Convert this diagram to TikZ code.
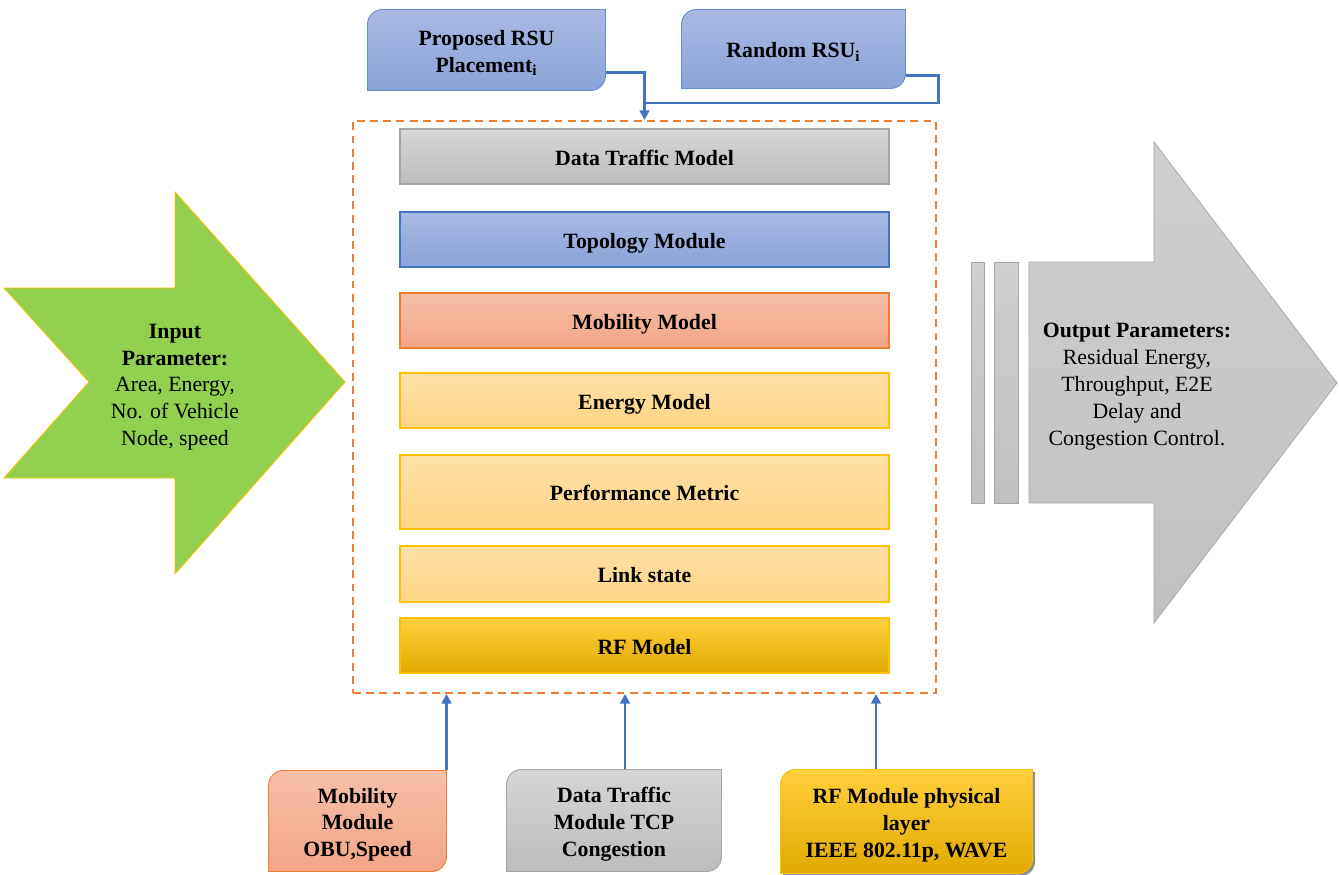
\documentclass[tikz,border=0pt]{standalone}
\usepackage{fontspec}
\setmainfont{Liberation Serif}
\usetikzlibrary{arrows.meta,calc,backgrounds,shadows}

\definecolor{blueT}{HTML}{AAB9E2}
\definecolor{blueB}{HTML}{8AA3D9}
\definecolor{blueE}{HTML}{4472C4}
\definecolor{grayT}{HTML}{D6D6D6}
\definecolor{grayB}{HTML}{BCBCBC}
\definecolor{grayE}{HTML}{A5A5A5}
\definecolor{salT}{HTML}{F6BFA8}
\definecolor{salB}{HTML}{F4A585}
\definecolor{salE}{HTML}{ED7D31}
\definecolor{yelT}{HTML}{FFE0A6}
\definecolor{yelB}{HTML}{FFD586}
\definecolor{yelE}{HTML}{FFC000}
\definecolor{goldT}{HTML}{FFCF3C}
\definecolor{goldB}{HTML}{E2A900}
\definecolor{greenF}{HTML}{92D050}
\definecolor{outT}{HTML}{D0D0D0}
\definecolor{outB}{HTML}{C0C0C0}

\tikzset{
  x=0.02cm, y=0.02cm,
  wh/.style 2 args={minimum width=#1*0.02cm, minimum height=#2*0.02cm, inner sep=0pt},
  % fixed line boxes so that text sits the same way whatever its letters
  nlines/.style={text height={(#1-1)*15.3pt+12pt}, text depth=1.8pt},
  nlines/.default=1,
  txt/.style={font=\fontsize{12.4}{15.3}\selectfont, align=center},
  layerbox/.style={txt, font=\fontsize{12.4}{15.3}\selectfont\bfseries, line width=0.6pt},
  graybox/.style={top color=grayT, bottom color=grayB, draw=grayE},
  bluebox/.style={top color=blueT, bottom color=blueB, draw=blueE},
  salbox/.style={top color=salT, bottom color=salB, draw=salE},
  yelbox/.style={top color=yelT, bottom color=yelB, draw=yelE},
  goldbox/.style={top color=goldT, bottom color=goldB, draw=yelE},
  conn/.style={draw=blueE, line width=1.6pt, -{Triangle[length=5.5pt,width=5.5pt]}},
  conn0/.style={draw=blueE, line width=1.6pt},
}

% box outline with rounded top-left and bottom-right corners
\newcommand\rcbox[3]{%
  \path[#2] (#1.south west) -- ($(#1.north west)+(0,-#3)$)
    arc[start angle=180,end angle=90,radius=#3] -- (#1.north east)
    -- ($(#1.south east)+(0,#3)$)
    arc[start angle=0,end angle=-90,radius=#3] -- cycle;}

\begin{document}
\begin{tikzpicture}
\useasboundingbox (0,0) rectangle (1339,-875);

% input arrow
\path[fill=greenF, draw=yelE, line width=0.5pt]
  (4,-288) -- (175,-288) -- (175,-192) -- (345,-382) -- (175,-574)
  -- (175,-478) -- (4,-478) -- (89,-382) -- cycle;
\node[txt, nlines=5] (input) at (175,-383)
  {\textbf{Input}\\\textbf{Parameter:}\\Area, Energy,\\No. of Vehicle\\Node, speed};

% output arrow with its two bars
\path[top color=outT, bottom color=outB, draw=grayE, line width=0.4pt]
  (971,-262) rectangle (984,-503);
\path[top color=outT, bottom color=outB, draw=grayE, line width=0.4pt]
  (994,-262) rectangle (1018,-503);
\path[top color=outT, bottom color=outB, draw=grayE, line width=0.4pt]
  (1029,-262) -- (1154,-262) -- (1154,-142) -- (1337,-383) -- (1154,-623)
  -- (1154,-503) -- (1029,-503) -- cycle;
\node[txt, nlines=5] (output) at (1137,-382.5)
  {\textbf{Output Parameters:}\\Residual Energy,\\Throughput, E2E\\Delay and\\Congestion Control.};

% simulation frame
\node[wh={583}{572}, draw=salE, dash pattern=on 4.5pt off 3pt, line width=1.1pt]
  (frame) at (644.5,-407) {};

% model layers
\node[layerbox, graybox, wh={489}{55}, nlines] (dtm) at (644.5,-156.5) {Data Traffic Model};
\node[layerbox, bluebox, wh={489}{55}, nlines] (topo) at (644.5,-239.5) {Topology Module};
\node[layerbox, salbox, wh={489}{55}, nlines] (mobm) at (644.5,-320.5) {Mobility Model};
\node[layerbox, yelbox, wh={489}{55}, nlines] (energy) at (644.5,-400.5) {Energy Model};
\node[layerbox, yelbox, wh={489}{74}, nlines] (perf) at (644.5,-492) {Performance Metric};
\node[layerbox, yelbox, wh={489}{56}, nlines] (link) at (644.5,-574) {Link state};
\node[layerbox, goldbox, wh={489}{55}, nlines] (rfm) at (644.5,-645.5) {RF Model};

% RSU inputs
\node[layerbox, wh={237}{80}, nlines=2] (prop) at (486.5,-50) {Proposed RSU\\Placement\textsubscript{i}};
\node[layerbox, wh={223}{78}, nlines] (rand) at (793.5,-49) {Random RSU\textsubscript{i}};

% module inputs
\node[layerbox, wh={177}{100}, nlines=3] (mobmod) at (357.5,-821) {Mobility\\Module\\OBU,Speed};
\node[layerbox, wh={214}{101}, nlines=3] (dtmod) at (614,-820.5) {Data Traffic\\Module TCP\\Congestion};
\node[layerbox, wh={251}{103}, nlines=3] (rfmod) at (906.5,-821.5) {RF Module physical\\layer\\IEEE 802.11p, WAVE};

\begin{scope}[on background layer]
  \rcbox{prop}{top color=blueT, bottom color=blueB, draw=blueE!80, line width=0.5pt}{15}
  \rcbox{rand}{top color=blueT, bottom color=blueB, draw=blueE!80, line width=0.5pt}{15}
  \rcbox{mobmod}{top color=salT, bottom color=salB, draw=salE, line width=0.5pt}{15}
  \rcbox{dtmod}{top color=grayT, bottom color=grayB, draw=grayE, line width=0.5pt}{15}
  \rcbox{rfmod}{top color=goldT, bottom color=goldB, draw=yelE, line width=0.5pt,
    drop shadow={shadow xshift=1.5pt, shadow yshift=-1.5pt, fill=black!55, opacity=0.8}}{15}
\end{scope}

% connectors
\coordinate (join) at ($(frame.north)+(0,17)$);
\draw[conn] ($(prop.south east)+(0,18)$) -| (frame.north);
\draw[conn0] ($(rand.south east)+(0,13)$) -- ++(33,0) |- (join);

\coordinate (mobtop) at (mobmod.north east);
\coordinate (dttop) at ($(dtmod.north)+(11,0)$);
\coordinate (rftop) at ($(rfmod.north)+(-30.5,0)$);
\draw[conn] (mobtop) -- (mobtop |- frame.south);
\draw[conn] (dttop) -- (dttop |- frame.south);
\draw[conn] (rftop) -- (rftop |- frame.south);
\end{tikzpicture}
\end{document}
